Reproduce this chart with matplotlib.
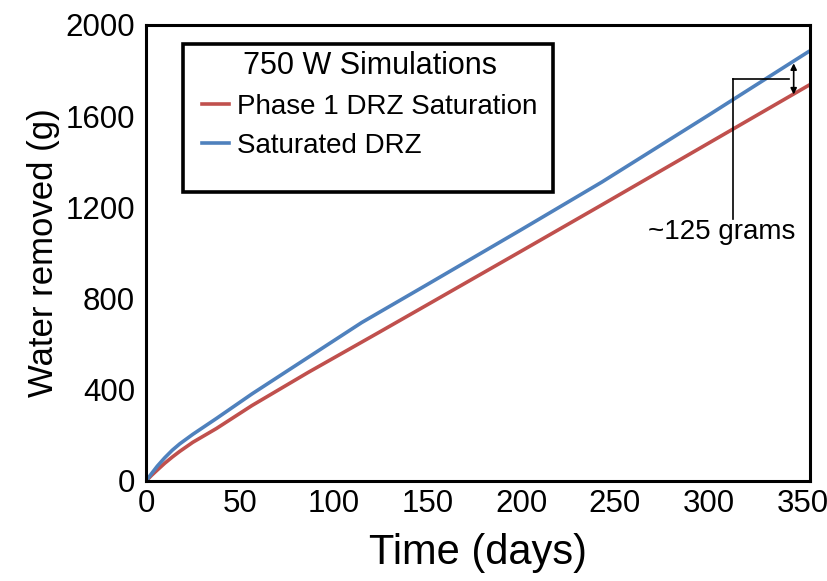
import matplotlib.pyplot as plt
from matplotlib.patches import Rectangle
import numpy as np

plt.rcParams['font.family'] = ['Liberation Sans', 'DejaVu Sans']

# data
days_blue = [0, 3, 6, 10, 14, 18, 25, 37.5, 56.5, 86.4, 115, 124, 150, 200, 243, 300, 353]
saturated = [0, 33, 65, 102, 135, 163, 205, 274, 382, 542, 695, 738, 862, 1102, 1311, 1605, 1882]

days_red = [0, 3, 6, 10, 14, 18, 25, 37.5, 56.5, 86.4, 124, 150, 200, 243, 300, 353]
phase1 = [0, 25, 48, 78, 105, 130, 170, 230, 331, 476, 651, 773, 1008, 1211, 1482, 1734]

xticks = [0, 50, 100, 150, 200, 250, 300, 350]
yticks = [0, 400, 800, 1200, 1600, 2000]

red = '#C0504D'
blue = '#4F81BD'

fig = plt.figure(figsize=(8.27, 5.81), dpi=100)
ax = fig.add_axes([146/827, 100/581, 664/827, 456/581])

ax.plot(days_red, phase1, color=red, lw=2.6, label='Phase 1 DRZ Saturation')
ax.plot(days_blue, saturated, color=blue, lw=2.6, label='Saturated DRZ')

ax.set_xlim(0, 354)
ax.set_ylim(0, 2000)
ax.set_xticks(xticks)
ax.set_yticks(yticks)
ax.tick_params(length=0, labelsize=22.5)
ax.tick_params(axis='y', pad=8)
ax.tick_params(axis='x', pad=6)
for s in ax.spines.values():
    s.set_linewidth(2.2)

ax.set_xlabel('Time (days)', fontsize=30, labelpad=10)
ax.set_ylabel('Water removed (g)', fontsize=25, labelpad=4)

# legend box
ax.add_patch(Rectangle((0.056, 0.633), 0.557, 0.325, transform=ax.transAxes,
                       fill=False, edgecolor='black', lw=2.6, zorder=5))
leg = ax.legend(loc='upper left', bbox_to_anchor=(0.068, 0.967), frameon=False,
                title='750 W Simulations', title_fontsize=22, fontsize=20,
                handlelength=0.95, handletextpad=0.3, labelspacing=0.46,
                borderaxespad=0)
leg._legend_box.align = 'center'

# ~125 grams annotation
ax.plot([312.7, 312.7], [1765, 1150], color='black', lw=1.2)
ax.plot([312.7, 343], [1765, 1765], color='black', lw=1.2)
ax.annotate('', xy=(345.3, 1695), xytext=(345.3, 1832),
            arrowprops=dict(arrowstyle='<|-|>', color='black', lw=1.2,
                            mutation_scale=9, shrinkA=0, shrinkB=0))
ax.text(307, 1090, '~125 grams', fontsize=20, ha='center', va='center')

fig.savefig('out.png', dpi=100)
